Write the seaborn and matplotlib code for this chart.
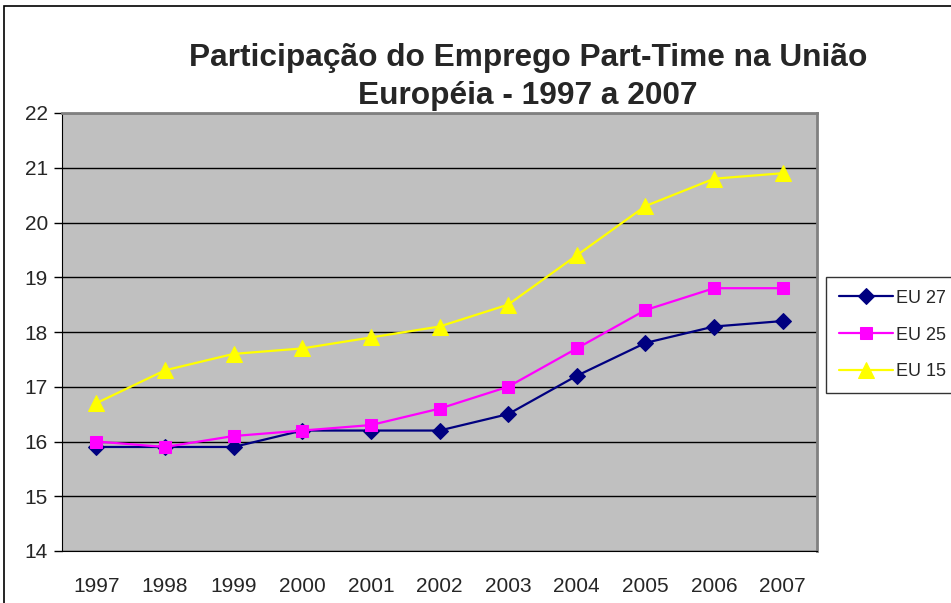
import pandas as pd
import matplotlib.pyplot as plt
import seaborn as sns
from matplotlib.patches import Rectangle

years = [1997, 1998, 1999, 2000, 2001, 2002, 2003, 2004, 2005, 2006, 2007]
eu27 = [15.9, 15.9, 15.9, 16.2, 16.2, 16.2, 16.5, 17.2, 17.8, 18.1, 18.2]
eu25 = [16.0, 15.9, 16.1, 16.2, 16.3, 16.6, 17.0, 17.7, 18.4, 18.8, 18.8]
eu15 = [16.7, 17.3, 17.6, 17.7, 17.9, 18.1, 18.5, 19.4, 20.3, 20.8, 20.9]
series_names = ["EU 27", "EU 25", "EU 15"]

df = pd.DataFrame({
    "ano": years * 3,
    "valor": eu27 + eu25 + eu15,
    "serie": [series_names[0]] * len(years) + [series_names[1]] * len(years) + [series_names[2]] * len(years),
})

sns.set_style("white")
plt.rcParams['font.family'] = ['Liberation Sans', 'DejaVu Sans']

fig = plt.figure(figsize=(9.51, 6.03), dpi=100)
W, H = 951, 603
ax = fig.add_axes([62 / W, 1 - 551 / H, (817 - 62) / W, (551 - 113) / H])
ax.set_facecolor("#C0C0C0")

# outer chart border
fig.patches.append(Rectangle((4 / W, -0.1), 1.2, 1 - 6 / H + 0.1, transform=fig.transFigure,
                             fill=False, edgecolor="black", linewidth=1.2))

palette = {"EU 27": "#000080", "EU 25": "#FF00FF", "EU 15": "#FFFF00"}
markers = {"EU 27": "D", "EU 25": "s", "EU 15": "^"}
sizes = {"EU 27": 8, "EU 25": 9, "EU 15": 11}

for name in series_names:
    sub = df[df["serie"] == name]
    sns.lineplot(data=sub, x="ano", y="valor", ax=ax, color=palette[name], marker=markers[name],
                 markersize=sizes[name], markeredgecolor=palette[name], linewidth=1.6, label=name)

ax.set_xlim(years[0] - 0.5, years[-1] + 0.5)
ax.set_ylim(14, 22)
ax.set_yticks(range(14, 23))
ax.set_xticks(years)
ax.set_xticks([y - 0.5 for y in years] + [years[-1] + 0.5], minor=True)
ax.grid(axis="y", color="black", linewidth=1.0)
ax.set_axisbelow(True)

ax.tick_params(axis="x", which="major", length=0, pad=19, labelsize=15)
ax.tick_params(axis="x", which="minor", length=6, width=1, color="black", direction="out")
ax.tick_params(axis="y", length=6, width=1, color="black", direction="out", pad=4, left=True, labelsize=15)
ax.set_xlabel("")
ax.set_ylabel("")

for side in ["top", "right"]:
    ax.spines[side].set_color("#808080")
    ax.spines[side].set_linewidth(2)
ax.spines["left"].set_color("black")
ax.spines["bottom"].set_color("black")

leg = ax.legend(loc="upper left", bbox_to_anchor=(826 / W, 1 - 277 / H), bbox_transform=fig.transFigure,
                frameon=True, fancybox=False, edgecolor="black", fontsize=13,
                borderpad=0.7, labelspacing=1.1, handlelength=3.0, handletextpad=0.2, borderaxespad=0)
leg.get_frame().set_linewidth(1.0)

fig.text(528 / W, 1 - 66 / H, "Participação do Emprego Part-Time na União", ha="center", va="baseline",
         fontsize=22.8, fontweight="bold")
fig.text(528 / W, 1 - 104 / H, "Européia - 1997 a 2007", ha="center", va="baseline",
         fontsize=22.8, fontweight="bold")

fig.savefig("out.png", dpi=100)
